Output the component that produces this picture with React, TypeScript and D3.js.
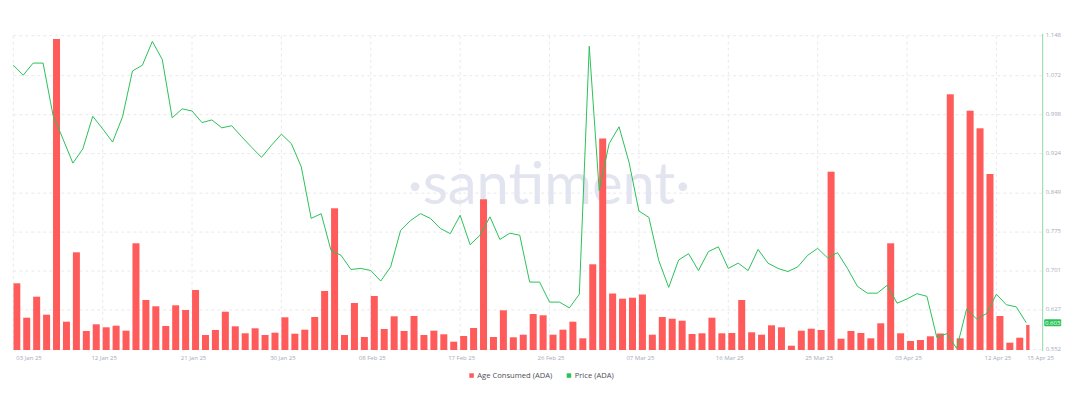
import React from "react";
import * as d3 from "d3";

// daily series, 03 Jan 2025 .. 15 Apr 2025
const startDay = new Date(Date.UTC(2025, 0, 3));
const endDay = new Date(Date.UTC(2025, 3, 15));

const ageConsumed = [
  6.67, 3.23, 5.33, 3.53, 31.1, 2.83, 9.77, 1.9, 2.57, 2.27,
  2.43, 1.93, 10.67, 5.0, 4.37, 2.4, 4.47, 4.0, 6.0, 1.5,
  2.0, 3.83, 2.37, 1.67, 2.17, 1.5, 1.73, 3.27, 1.63, 2.03,
  3.3, 5.9, 14.17, 1.5, 4.7, 1.3, 5.4, 2.1, 3.37, 1.9,
  3.4, 1.5, 1.93, 1.57, 0.83, 1.4, 2.2, 15.07, 1.3, 3.97,
  1.27, 1.53, 3.6, 3.47, 1.53, 2.03, 2.83, 1.17, 8.57, 21.15,
  5.65, 5.13, 5.23, 5.55, 1.53, 3.3, 3.13, 2.93, 1.6, 1.67,
  3.23, 1.67, 1.7, 5.0, 1.77, 1.53, 2.47, 2.27, 0.43, 1.93,
  2.13, 2.0, 17.83, 1.13, 1.9, 1.7, 1.17, 2.67, 10.67, 1.67,
  0.9, 1.0, 1.37, 1.65, 25.57, 1.17, 23.93, 22.17, 17.6, 3.4,
  0.73, 1.23, 2.5,
];

const price = [
  1.092, 1.073, 1.096, 1.096, 0.997, 0.952, 0.906, 0.933, 0.995, 0.971,
  0.946, 0.994, 1.081, 1.092, 1.137, 1.103, 0.992, 1.009, 1.005, 0.983,
  0.988, 0.973, 0.977, 0.956, 0.936, 0.917, 0.94, 0.961, 0.943, 0.899,
  0.801, 0.81, 0.74, 0.731, 0.704, 0.706, 0.702, 0.682, 0.709, 0.778,
  0.797, 0.81, 0.801, 0.782, 0.772, 0.807, 0.751, 0.769, 0.804, 0.761,
  0.773, 0.769, 0.68, 0.68, 0.642, 0.642, 0.631, 0.657, 1.128, 0.854,
  0.943, 0.975, 0.908, 0.815, 0.803, 0.721, 0.67, 0.722, 0.734, 0.702,
  0.738, 0.747, 0.706, 0.716, 0.702, 0.742, 0.716, 0.706, 0.7, 0.709,
  0.731, 0.744, 0.726, 0.736, 0.706, 0.672, 0.659, 0.659, 0.674, 0.64,
  0.648, 0.658, 0.653, 0.575, 0.582, 0.554, 0.629, 0.61, 0.62, 0.657,
  0.637, 0.633, 0.603,
];

const dateTicks = [
  "2025-01-03", "2025-01-12", "2025-01-21", "2025-01-30", "2025-02-08",
  "2025-02-17", "2025-02-26", "2025-03-07", "2025-03-16", "2025-03-25",
  "2025-04-03", "2025-04-12", "2025-04-15",
];

const priceTicks = [0.552, 0.627, 0.701, 0.775, 0.849, 0.924, 0.998, 1.072, 1.148];

const W = 1081;
const H = 393;
const plotLeft = 13.3;
const plotRight = 1026.2;
const clipRight = 1029.5;
const axisX = 1042.7;
const top = 35.7;
const base = 349.5;

const RED = "#ff5b5b";
const GREEN = "#2cc25a";
const GRID = "#e9e9ee";
const TICK = "#a4abbc";
const font = "'Open Sans', 'Noto Sans', sans-serif";

const fmtDate = d3.utcFormat("%d %b %y");

export default function App() {
  const days = d3.utcDay.range(startDay, d3.utcDay.offset(endDay, 1));
  const x = d3.scaleUtc().domain([startDay, endDay]).range([plotLeft, plotRight]);
  const yBar = d3.scaleLinear().domain([0, 32]).range([350, 30]);
  const yPrice = d3.scaleLinear().domain([0.552, 1.148]).range([base, top]);

  const line = d3
    .line<number>()
    .x((_, i) => x(days[i]))
    .y((d) => yPrice(d));

  const tickDates = dateTicks.map((s) => new Date(s + "T00:00:00Z"));
  const last = price[price.length - 1];

  return (
    <svg
      width={W}
      height={H}
      style={{ position: "absolute", left: 0, top: 0, background: "#fff" }}
    >
      <defs>
        <clipPath id="plot">
          <rect x={plotLeft} y={0} width={clipRight - plotLeft} height={352} />
        </clipPath>
      </defs>

      {/* grid */}
      {priceTicks.map((t) => (
        <line
          key={"h" + t}
          x1={plotLeft}
          x2={axisX}
          y1={yPrice(t)}
          y2={yPrice(t)}
          stroke={GRID}
          strokeDasharray="3,3"
        />
      ))}
      {tickDates.slice(0, -1).map((d, i) => (
        <line
          key={"v" + i}
          x1={x(d)}
          x2={x(d)}
          y1={top}
          y2={base}
          stroke={GRID}
          strokeDasharray="3,3"
        />
      ))}

      {/* watermark */}
      <text
        x={549}
        y={204}
        textAnchor="middle"
        fontFamily="Lato, 'Open Sans', sans-serif"
        fontWeight={400}
        fontSize={58}
        fill="#e2e5f0"
      >
        ·santiment·
      </text>

      <g clipPath="url(#plot)">
        {ageConsumed.map((v, i) => (
          <rect
            key={i}
            x={x(days[i])}
            y={yBar(v)}
            width={7}
            height={350 - yBar(v)}
            fill={RED}
          />
        ))}
      </g>

      <path d={line(price) || ""} fill="none" stroke={GREEN} strokeWidth={1} />

      {/* right price axis */}
      <line x1={axisX} x2={axisX} y1={top - 2} y2={351} stroke="#8ad9a0" />
      {priceTicks.map((t) => (
        <text
          key={"p" + t}
          x={axisX + 3}
          y={yPrice(t) - 0.8}
          dy="0.35em"
          fontFamily={font}
          fontSize={6}
          fill={TICK}
        >
          {t.toFixed(3)}
        </text>
      ))}
      <rect x={axisX + 1.5} y={yPrice(last) - 3.5} width={17} height={7} fill={GREEN} rx={1} />
      <text
        x={axisX + 10}
        y={yPrice(last)}
        dy="0.35em"
        textAnchor="middle"
        fontFamily={font}
        fontSize={6}
        fill="#fff"
      >
        {last.toFixed(3)}
      </text>

      {/* date axis */}
      {tickDates.map((d, i) => {
        const first = i === 0;
        const lastTick = i === tickDates.length - 1;
        return (
          <text
            key={"d" + i}
            x={first ? x(d) + 3 : lastTick ? x(d) + 1 : x(d) + 1.5}
            y={357.5}
            dy="0.35em"
            textAnchor={first || lastTick ? "start" : "middle"}
            fontFamily={font}
            fontSize={6}
            fill={TICK}
          >
            {fmtDate(d)}
          </text>
        );
      })}

      {/* legend */}
      <rect x={469.3} y={373.3} width={4.5} height={4.5} fill={RED} />
      <text x={477.3} y={375.6} dy="0.35em" fontFamily={font} fontSize={7.6} fill="#4f4f55">
        Age Consumed (ADA)
      </text>
      <rect x={566.7} y={373.3} width={4.5} height={4.5} fill={GREEN} />
      <text x={574.7} y={375.6} dy="0.35em" fontFamily={font} fontSize={7.6} fill="#4f4f55">
        Price (ADA)
      </text>
    </svg>
  );
}
